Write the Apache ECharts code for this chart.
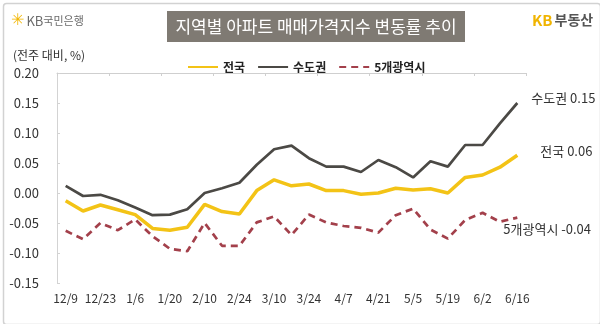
<!DOCTYPE html>
<html>
<head>
<meta charset="utf-8">
<script src="https://cdn.jsdelivr.net/npm/echarts@6/dist/echarts.min.js"></script>
<style>
html,body{margin:0;padding:0;background:#fff;}
#c{width:600px;height:324px;}
</style>
</head>
<body>
<div id="c"></div>
<script>
const categories = ['12/9','12/16','12/23','12/30','1/6','1/13','1/20','2/3','2/10','2/17','2/24','3/3','3/10','3/17','3/24','3/31','4/7','4/14','4/21','4/28','5/5','5/12','5/19','5/26','6/2','6/9','6/16'];
const nationalValues = [-0.013,-0.030,-0.020,-0.028,-0.036,-0.059,-0.062,-0.057,-0.019,-0.031,-0.035,0.004,0.022,0.012,0.015,0.004,0.004,-0.002,0.000,0.008,0.005,0.007,0.000,0.026,0.030,0.043,0.063];
const capitalValues = [0.012,-0.005,-0.003,-0.012,-0.024,-0.037,-0.036,-0.027,0.000,0.008,0.017,0.047,0.073,0.079,0.058,0.044,0.044,0.035,0.055,0.043,0.026,0.053,0.044,0.080,0.080,0.116,0.150];
const metroValues = [-0.063,-0.077,-0.050,-0.062,-0.044,-0.072,-0.093,-0.097,-0.050,-0.088,-0.088,-0.049,-0.039,-0.070,-0.036,-0.049,-0.055,-0.058,-0.066,-0.037,-0.026,-0.061,-0.076,-0.045,-0.033,-0.048,-0.041];
const seriesNames = ['전국','수도권','5개광역시'];
const yMin = -0.15, yMax = 0.20, yStep = 0.05;

const FONT = '"Noto Sans CJK KR", "Noto Sans", sans-serif';
const chart = echarts.init(document.getElementById('c'));
const endFmt = p => p.seriesName + ' ' + Number(p.value).toFixed(2);

chart.setOption({
  animation: false,
  textStyle: { fontFamily: FONT },
  grid: { left: 57, right: 74, top: 73, bottom: 41, containLabel: false },
  legend: {
    data: seriesNames,
    left: 187, top: 61,
    itemWidth: 30, itemHeight: 14, itemGap: 12, padding: 0,
    itemStyle: { opacity: 0 },
    textStyle: { fontFamily: FONT, fontSize: 12, fontWeight: 'bold', color: '#222' }
  },
  xAxis: [{
    type: 'category', data: categories, position: 'bottom', boundaryGap: true,
    axisLine: { show: false }, axisTick: { show: false },
    axisLabel: { interval: 1, color: '#333', fontSize: 12, margin: 9, fontFamily: FONT }
  }, {
    type: 'category', data: categories, position: 'top', boundaryGap: true,
    axisLine: { show: true, onZero: true, lineStyle: { color: '#cfcfcf', width: 1 } },
    axisTick: { show: true, inside: true, length: 3, lineStyle: { color: '#cfcfcf' } },
    axisLabel: { show: false }
  }],
  yAxis: {
    type: 'value', min: yMin, max: yMax, interval: yStep,
    axisLine: { show: true, lineStyle: { color: '#d3d3d3' } },
    axisTick: { show: true, inside: true, length: 3, lineStyle: { color: '#d3d3d3' } },
    splitLine: { show: false },
    axisLabel: { color: '#333', fontSize: 13, margin: 18, fontFamily: FONT,
      formatter: v => v.toFixed(2) }
  },
  series: [{
    name: seriesNames[0], type: 'line', data: nationalValues, xAxisIndex: 0,
    symbol: 'none', z: 4,
    lineStyle: { color: '#f3c316', width: 3.5 }, itemStyle: { color: '#f3c316' },
    endLabel: { show: true, formatter: endFmt, color: '#333', fontSize: 13, fontFamily: FONT, offset: [15, -4] }
  }, {
    name: seriesNames[1], type: 'line', data: capitalValues, xAxisIndex: 0,
    symbol: 'none', z: 3,
    lineStyle: { color: '#4b4945', width: 2.7 }, itemStyle: { color: '#4b4945' },
    endLabel: { show: true, formatter: endFmt, color: '#333', fontSize: 13, fontFamily: FONT, offset: [6, -5] }
  }, {
    name: seriesNames[2], type: 'line', data: metroValues, xAxisIndex: 0,
    symbol: 'none', z: 2,
    lineStyle: { color: '#a3404b', width: 2.7, type: [7, 5] }, itemStyle: { color: '#a3404b' },
    endLabel: { show: true, formatter: endFmt, color: '#333', fontSize: 13, fontFamily: FONT, offset: [-22, 11] }
  }],
  graphic: [
    { type: 'rect', left: 1, top: 1, shape: { width: 597, height: 321, r: 3 },
      style: { fill: 'none', stroke: '#d2d2d2', lineWidth: 1.5 }, silent: true },
    { type: 'rect', left: 167, top: 11, shape: { width: 298, height: 31 },
      style: { fill: '#7f7a73' } },
    { type: 'text', x: 316, y: 27, style: { text: '지역별 아파트 매매가격지수 변동률 추이',
      fill: '#ffffff', fontSize: 17, fontFamily: FONT, align: 'center', verticalAlign: 'middle' } },
    { type: 'text', x: 11, y: 21, style: { text: '{s|✳}{k|KB}{n|국민은행}', verticalAlign: 'middle',
      rich: { s: { fill: '#f2b705', fontSize: 16, fontFamily: 'DejaVu Sans', padding: [0, 2, 0, 0] },
              k: { fill: '#6b6b6b', fontSize: 13, fontFamily: FONT },
              n: { fill: '#6b6b6b', fontSize: 11, fontFamily: FONT } } } },
    { type: 'text', x: 532, y: 20, style: { text: '{k|KB}{n|부동산}', verticalAlign: 'middle',
      rich: { k: { fill: '#f0b400', fontSize: 15, fontWeight: 'bold', fontFamily: FONT, padding: [0, 2, 0, 0] },
              n: { fill: '#555555', fontSize: 14, fontWeight: 'bold', fontFamily: FONT } } } },
    { type: 'text', x: 13, y: 55, style: { text: '(전주 대비, %)', fill: '#333', fontSize: 12,
      fontFamily: FONT, verticalAlign: 'middle' } }
  ]
});
</script>
</body>
</html>
